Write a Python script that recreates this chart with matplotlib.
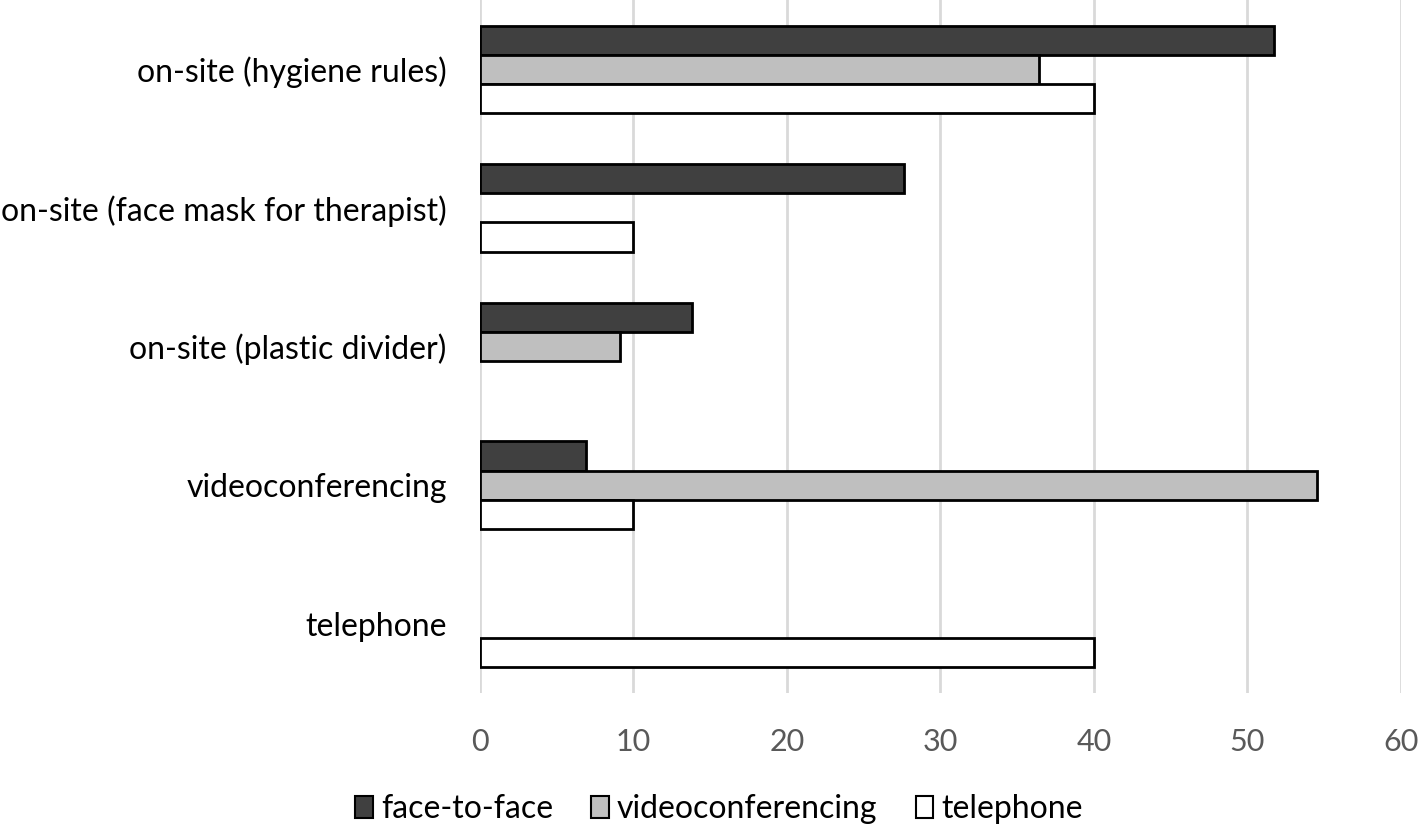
import matplotlib.pyplot as plt
import numpy as np
from matplotlib.patches import Patch

plt.rcParams["font.family"] = ["Lato", "DejaVu Sans"]

categories = [
    "on-site (hygiene rules)",
    "on-site (face mask for therapist)",
    "on-site (plastic divider)",
    "videoconferencing",
    "telephone",
]
series_names = ["face-to-face", "videoconferencing", "telephone"]
face_to_face = [51.7, 27.6, 13.8, 6.9, 0]
videoconf = [36.4, 0, 9.1, 54.5, 0]
telephone = [40.0, 10.0, 0, 10.0, 40.0]
x_ticks = [0, 10, 20, 30, 40, 50, 60]

colors = ["#404040", "#bfbfbf", "#ffffff"]

fig = plt.figure(figsize=(14.18, 8.26), dpi=100)
ax = fig.add_axes([480 / 1418, 1 - 693 / 826, 921 / 1418, 693 / 826])

pos = np.arange(len(categories))
bar_h = 0.21
for i, (vals, col, name) in enumerate(zip([face_to_face, videoconf, telephone], colors, series_names)):
    vals = np.array(vals, dtype=float)
    keep = vals > 0
    ax.barh(pos[keep] + (i - 1) * bar_h, vals[keep], height=bar_h,
            color=col, edgecolor="black", linewidth=2.0, zorder=3)

ax.set_xlim(0, 60)
ax.set_ylim(len(categories) - 0.5, -0.5)
ax.set_xticks(x_ticks)
ax.set_yticks(pos)
ax.set_yticklabels(categories, fontsize=23, color="black")
ax.tick_params(axis="y", length=0, pad=24)
ax.tick_params(axis="x", length=0, pad=25, labelsize=22, labelcolor="#595959")
ax.grid(axis="x", color="#d9d9d9", linewidth=2, zorder=0)
for s in ax.spines.values():
    s.set_visible(False)

handles = [Patch(facecolor=c, edgecolor="black", linewidth=1.5, label=n)
           for c, n in zip(colors, series_names)]
fig.legend(handles=handles, loc="center", bbox_to_anchor=(0.507, 1 - 809 / 826),
           ncol=3, frameon=False, fontsize=23, handlelength=0.55, handleheight=0.7,
           handletextpad=0.25, columnspacing=1.2)

fig.savefig("out.png", dpi=100)
